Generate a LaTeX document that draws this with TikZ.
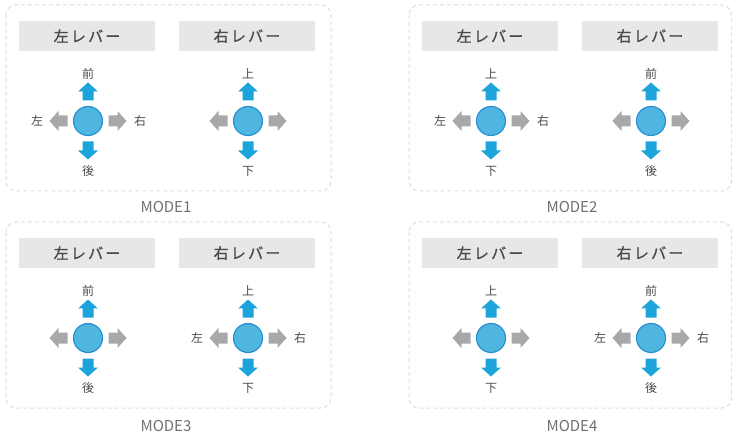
\documentclass[tikz,border=0pt]{standalone}
\usepackage{fontspec}
\setmainfont{Noto Sans CJK JP}
\newfontfamily\headfont[LetterSpace=15,FakeBold=1]{Noto Sans CJK JP}
\usetikzlibrary{positioning}

\definecolor{knobfill}{HTML}{4FB6E0}
\definecolor{knobline}{HTML}{2B8FD4}
\definecolor{arrblue}{HTML}{1DA5DB}
\definecolor{arrgray}{HTML}{A7A8AA}
\definecolor{headgray}{HTML}{E6E7E9}
\definecolor{framegray}{HTML}{DCDDDE}
\definecolor{textgray}{HTML}{4A4A4A}
\definecolor{modegray}{HTML}{707070}

\tikzset{
  arr/.pic={\fill (20.5,-5.5) -- (29.5,-5.5) -- (29.5,-10) -- (38.5,0)
            -- (29.5,10) -- (29.5,5.5) -- (20.5,5.5) -- cycle;}
}

% one lever: name, x, y, top, bottom, left, right
\newcommand{\lever}[7]{%
  \node[knob] (#1) at (#2,#3) {};
  \pic[bluearr,rotate=90] at (#1) {arr};
  \pic[bluearr,rotate=-90] at (#1) {arr};
  \pic[grayarr] at (#1) {arr};
  \pic[grayarr,rotate=180] at (#1) {arr};
  \node[lbl] (#1-up) at ([yshift=47.5pt]#1.center) {#4};
  \node[lbl] (#1-dn) at ([yshift=-50pt]#1.center) {#5};
  \if\relax\detokenize{#6}\relax\else
    \node[lbl] (#1-lt) at ([xshift=-51pt]#1.center) {#6};
    \node[lbl] (#1-rt) at ([xshift=52pt]#1.center) {#7};
  \fi
}

\begin{document}
\begin{tikzpicture}[x=1pt,y=-1pt,
    frame/.style={draw=framegray,line width=1pt,dash pattern=on 4pt off 3pt,rounded corners=10pt},
    head/.style={fill=headgray,minimum width=136pt,minimum height=30pt,inner sep=0pt,
                 text=textgray,font=\headfont\fontsize{15}{15}\selectfont},
    knob/.style={circle,fill=knobfill,draw=knobline,line width=1.2pt,minimum size=29pt,inner sep=0pt},
    bluearr/.style={fill=arrblue},
    grayarr/.style={fill=arrgray},
    lbl/.style={inner sep=0pt,text=textgray,font=\fontsize{12}{12}\selectfont},
    mode/.style={anchor=base,inner sep=0pt,text=modegray,font=\fontsize{15}{15}\selectfont}]

 \useasboundingbox (0,0) rectangle (732,433);

 % MODE1
 \draw[frame] (6,5) rectangle (331,191);
 \node[head] (h1l) at (87,36) {左レバー};
 \node[head] (h1r) at (247,36) {右レバー};
 \lever{k1l}{88}{121}{前}{後}{左}{右}
 \lever{k1r}{248}{121}{上}{下}{}{}
 \node[mode] (m1) at (166,213) {MODE1};

 % MODE2
 \draw[frame] (409,5) rectangle (731.5,191);
 \node[head] (h2l) at (490,36) {左レバー};
 \node[head] (h2r) at (650,36) {右レバー};
 \lever{k2l}{491}{121}{上}{下}{左}{右}
 \lever{k2r}{651}{121}{前}{後}{}{}
 \node[mode] (m2) at (572,213) {MODE2};

 % MODE3
 \draw[frame] (6,222) rectangle (331,408);
 \node[head] (h3l) at (87,253) {左レバー};
 \node[head] (h3r) at (247,253) {右レバー};
 \lever{k3l}{88}{338}{前}{後}{}{}
 \lever{k3r}{248}{338}{上}{下}{左}{右}
 \node[mode] (m3) at (166,431) {MODE3};

 % MODE4
 \draw[frame] (409,222) rectangle (731.5,408);
 \node[head] (h4l) at (490,253) {左レバー};
 \node[head] (h4r) at (650,253) {右レバー};
 \lever{k4l}{491}{338}{上}{下}{}{}
 \lever{k4r}{651}{338}{前}{後}{左}{右}
 \node[mode] (m4) at (572,431) {MODE4};

\end{tikzpicture}
\end{document}
